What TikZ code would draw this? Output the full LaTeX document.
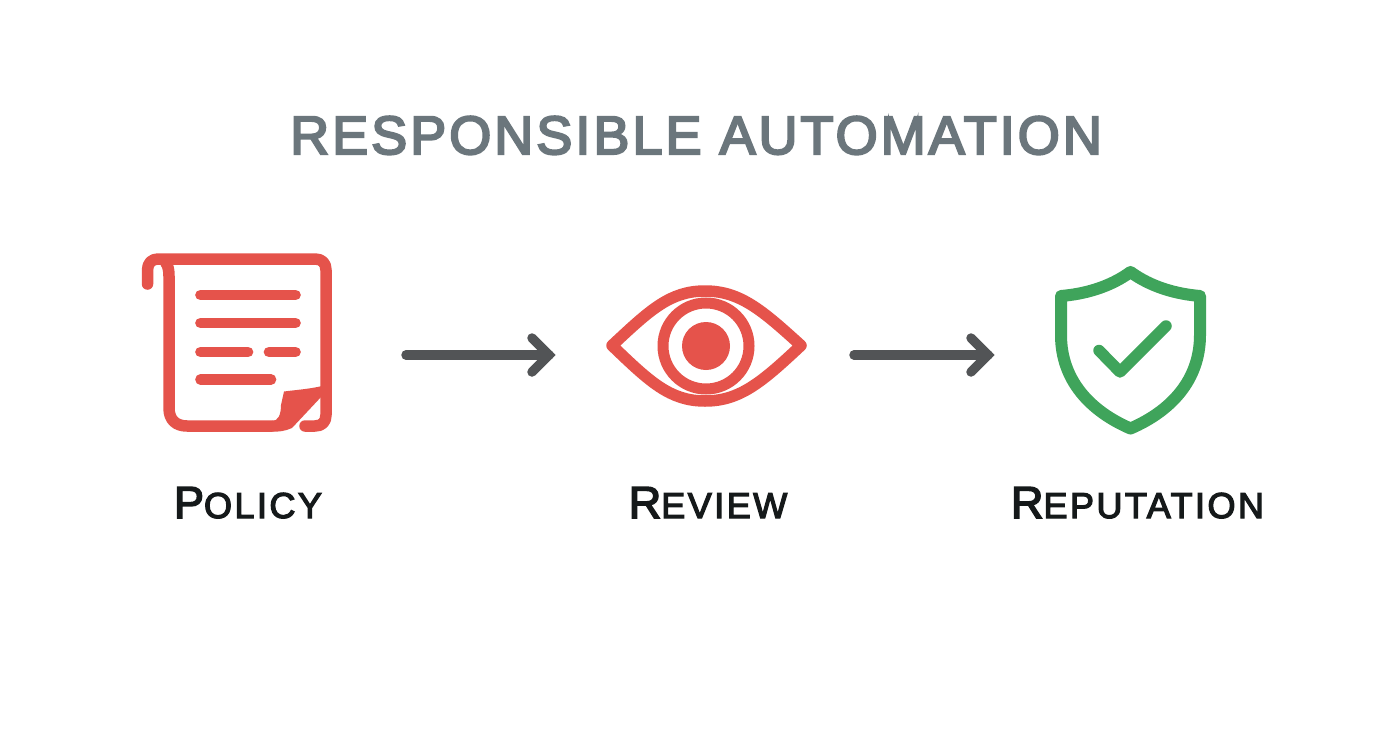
\documentclass[tikz,border=0pt]{standalone}
\usepackage{fontspec}
\setmainfont{Liberation Sans}
\newfontfamily\titlefont[FakeBold=4,LetterSpace=5.6]{Liberation Sans}
\newfontfamily\labelfont[FakeBold=3.5,LetterSpace=6.9]{Liberation Sans}
\definecolor{iconred}{HTML}{E5534B}
\definecolor{icongreen}{HTML}{3FA45B}
\definecolor{titlegray}{HTML}{6B767C}
\definecolor{arrowgray}{HTML}{525456}
\definecolor{labelblack}{HTML}{15191A}
\newcommand{\capslabel}[2]{{\fontsize{45}{45}\selectfont #1}{\fontsize{36}{36}\selectfont #2}}
\tikzset{
  x=1pt,y=-1pt,
  redline/.style={draw=iconred,line width=11.5,line cap=round,line join=round},
  textline/.style={draw=iconred,line width=10.7,line cap=round},
  greenline/.style={draw=icongreen,line width=12,line cap=round,line join=round},
  flowarrow/.style={draw=arrowgray,line width=9.5,line cap=round,line join=miter},
  lab/.style={text=labelblack,anchor=base,inner sep=0,font=\labelfont}
}
\begin{document}
\begin{tikzpicture}
\useasboundingbox (0,0) rectangle (1392,752);
\fill[white] (0,0) rectangle (1392,752);
\node[anchor=base,inner sep=0,text=titlegray,font=\titlefont\fontsize{54}{54}\selectfont] (title) at (696,154) {RESPONSIBLE AUTOMATION};
% document
\draw[redline] (147.5,284) -- (147.5,270) .. controls (147.5,263) and (152,259) .. (158,259) -- (315,259) .. controls (322,259) and (326,263) .. (326,270) -- (326,415) .. controls (326,422) and (322,426) .. (315,426) -- (305,426);
\draw[redline] (166,263) .. controls (168,266) and (169,270) .. (169,276) -- (169,408) .. controls (169,420) and (176,426) .. (187,426) -- (272,426);
\fill[iconred] (284,391.5) .. controls (295,390) and (310,389) .. (322,386) -- (322,396) -- (292,428) .. controls (285,431) and (280,432) .. (270,431.5) -- (272,421) .. controls (278,421) and (281,415) .. (281,405) -- cycle;
\draw[textline] (200.5,295) -- (295.5,295);
\draw[textline] (200.5,323) -- (295.5,323);
\draw[textline] (200.5,352) -- (248,352);
\draw[textline] (269,352) -- (295.5,352);
\draw[textline] (200.5,379.5) -- (271,379.5);
% eye
\draw[redline] (612,345.5) .. controls (650,310) and (670,291) .. (705,291) .. controls (740,291) and (762,310) .. (801,345.5) .. controls (762,382) and (740,401) .. (705,401) .. controls (670,401) and (650,382) .. (612,345.5) -- cycle;
\draw[iconred,line width=11] (706,346) circle[radius=43];
\fill[iconred] (706,346) circle[radius=24];
% shield
\draw[greenline] (1130.5,272) .. controls (1110,287) and (1085,294) .. (1061,296) -- (1061,335) .. controls (1061,380) and (1090,411) .. (1130.5,428.5) .. controls (1171,411) and (1200,380) .. (1200,335) -- (1200,296) .. controls (1176,294) and (1151,287) .. (1130.5,272) -- cycle;
\draw[draw=icongreen,line width=11.5,line cap=round,line join=round] (1099,350.5) -- (1120,372) -- (1166,326);
% arrows
\coordinate (a1s) at (406,355);
\coordinate (a1e) at (549,355);
\coordinate (a2s) at (854,355);
\coordinate (a2e) at (988,355);
\draw[flowarrow] (a1s) -- (a1e);
\draw[flowarrow] ([xshift=-17,yshift=-17]a1e) -- (a1e) -- ([xshift=-17,yshift=17]a1e);
\draw[flowarrow] (a2s) -- (a2e);
\draw[flowarrow] ([xshift=-17,yshift=-17]a2e) -- (a2e) -- ([xshift=-17,yshift=17]a2e);
% labels
\node[lab] (policy) at (248,518) {\capslabel{P}{OLICY}};
\node[lab] (review) at (708,518) {\capslabel{R}{EVIEW}};
\node[lab] (reputation) at (1137.5,518) {\capslabel{R}{EPUTATION}};
\end{tikzpicture}
\end{document}
